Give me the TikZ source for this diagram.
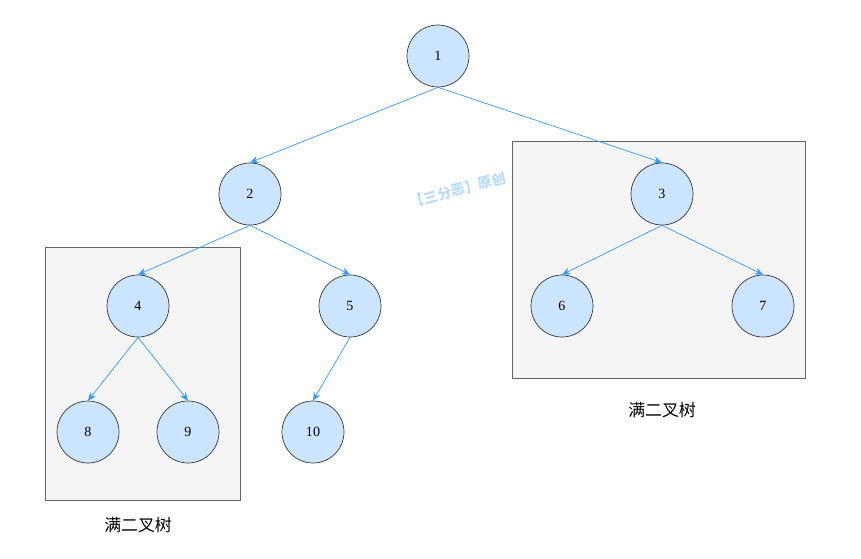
\documentclass[tikz,border=0pt]{standalone}
\usepackage{fontspec}
\setmainfont{Liberation Serif}
\newfontfamily\cjk{Noto Sans CJK SC}
\usetikzlibrary{arrows.meta}
\definecolor{nodefill}{HTML}{CCE5FF}
\definecolor{nodeline}{HTML}{36393D}
\definecolor{edgeblue}{HTML}{3399FF}
\definecolor{boxfill}{HTML}{F5F5F5}
\definecolor{boxline}{HTML}{666666}
\begin{document}
\begin{tikzpicture}[x=0.03cm,y=-0.03cm,
  tnode/.style={circle,draw=nodeline,fill=nodefill,semithick,minimum size=1.86cm,inner sep=0pt,font=\large},
  tedge/.style={draw=edgeblue,semithick,-{Stealth[length=7pt,width=6pt]}},
  tbox/.style={draw=boxline,fill=boxfill,semithick}]
\useasboundingbox (0,0) rectangle (861,559);
% watermark
\node[rotate=15,text=edgeblue!35,font=\cjk\large\bfseries,inner sep=0pt] (mark) at (458,190) {【三分恶】原创};
% boxes
\draw[tbox] (45,247) rectangle (240,500);
\draw[tbox] (512,141) rectangle (805,378);
\node[font=\cjk\Large] (lblA) at (138,525) {满二叉树};
\node[font=\cjk\Large] (lblB) at (662,410) {满二叉树};
% nodes
\node[tnode] (n1) at (438,56) {1};
\node[tnode] (n2) at (250,194) {2};
\node[tnode] (n3) at (662,194) {3};
\node[tnode] (n4) at (138,306) {4};
\node[tnode] (n5) at (350,306) {5};
\node[tnode] (n6) at (562,306) {6};
\node[tnode] (n7) at (763,306) {7};
\node[tnode] (n8) at (88,432) {8};
\node[tnode] (n9) at (188,432) {9};
\node[tnode] (n10) at (313,432) {10};
% edges
\draw[tedge] (n1.south) -- (n2.north);
\draw[tedge] (n1.south) -- (n3.north);
\draw[tedge] (n2.south) -- (n4.north);
\draw[tedge] (n2.south) -- (n5.north);
\draw[tedge] (n3.south) -- (n6.north);
\draw[tedge] (n3.south) -- (n7.north);
\draw[tedge] (n4.south) -- (n8.north);
\draw[tedge] (n4.south) -- (n9.north);
\draw[tedge] (n5.south) -- (n10.north);
\end{tikzpicture}
\end{document}
